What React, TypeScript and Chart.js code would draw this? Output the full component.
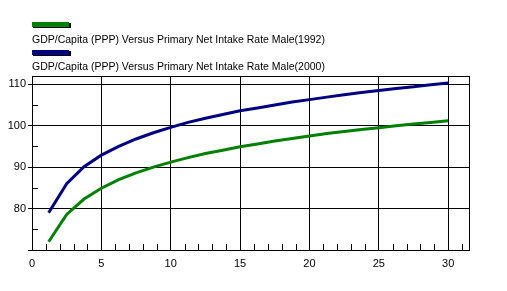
import React, { useEffect, useRef } from "react";
import { Chart, registerables } from "chart.js";

Chart.register(...registerables);

const xValues = [1.2, 2.5, 3.75, 5, 6.25, 7.5, 8.75, 10, 11.25, 12.5, 13.75, 15, 16.25, 17.5, 18.75, 20, 21.25, 22.5, 23.75, 25, 26.25, 27.5, 28.75, 30];
const series1992 = [72.0, 78.6, 82.3, 84.9, 87.0, 88.6, 90.0, 91.2, 92.3, 93.3, 94.1, 94.9, 95.6, 96.3, 96.9, 97.5, 98.1, 98.6, 99.1, 99.5, 100.0, 100.4, 100.8, 101.2];
const series2000 = [79.0, 86.0, 90.1, 92.9, 95.0, 96.8, 98.3, 99.6, 100.8, 101.8, 102.7, 103.6, 104.3, 105.0, 105.7, 106.3, 106.9, 107.5, 108.0, 108.5, 109.0, 109.4, 109.9, 110.3];
const seriesLabels = [
  "GDP/Capita (PPP) Versus Primary Net Intake Rate Male(1992)",
  "GDP/Capita (PPP) Versus Primary Net Intake Rate Male(2000)",
];
const seriesColors = ["#008000", "#000080"];
const xMinorTicks = Array.from({ length: 31 }, (_, i) => i + 1).filter((v) => v % 5 !== 0);
const yMinorTicks = [75, 85, 95, 105];

const FONT = "Liberation Sans, Arial, sans-serif";

export default function App() {
  const ref = useRef<HTMLCanvasElement | null>(null);

  useEffect(() => {
    if (!ref.current) return;
    const decor = {
      id: "decor",
      afterDraw(chart: any) {
        const { ctx, chartArea } = chart;
        const xs = chart.scales.x;
        const ys = chart.scales.y;
        ctx.save();
        ctx.strokeStyle = "#000";
        ctx.lineWidth = 1;
        ctx.strokeRect(
          Math.round(chartArea.left) + 0.5,
          Math.round(chartArea.top) + 0.5,
          Math.round(chartArea.right - chartArea.left),
          Math.round(chartArea.bottom - chartArea.top)
        );
        ctx.beginPath();
        for (const v of xMinorTicks) {
          const px = Math.round(xs.getPixelForValue(v)) + 0.5;
          ctx.moveTo(px, chartArea.bottom);
          ctx.lineTo(px, chartArea.bottom - 6);
        }
        for (const v of yMinorTicks) {
          const py = Math.round(ys.getPixelForValue(v)) + 0.5;
          ctx.moveTo(chartArea.left, py);
          ctx.lineTo(chartArea.left + 6, py);
        }
        ctx.stroke();
        ctx.font = "10.5px " + FONT;
        ctx.textBaseline = "middle";
        ctx.textAlign = "left";
        const rows = [
          { sy: 22, ty: 40 },
          { sy: 50, ty: 67 },
        ];
        rows.forEach((r, i) => {
          ctx.fillStyle = "#000";
          ctx.fillRect(33, r.sy + 1, 38, 5);
          ctx.fillStyle = seriesColors[i];
          ctx.fillRect(32, r.sy, 37, 5);
          ctx.fillStyle = "#000";
          ctx.fillText(seriesLabels[i], 32, r.ty);
        });
        ctx.restore();
      },
    };

    const chart = new Chart(ref.current, {
      type: "line",
      data: {
        datasets: [
          {
            label: seriesLabels[0],
            data: xValues.map((x, i) => ({ x, y: series1992[i] })),
            borderColor: seriesColors[0],
            backgroundColor: seriesColors[0],
            borderWidth: 3,
            pointRadius: 0,
            tension: 0,
          },
          {
            label: seriesLabels[1],
            data: xValues.map((x, i) => ({ x, y: series2000[i] })),
            borderColor: seriesColors[1],
            backgroundColor: seriesColors[1],
            borderWidth: 3,
            pointRadius: 0,
            tension: 0,
          },
        ],
      },
      options: {
        responsive: false,
        animation: false,
        devicePixelRatio: 1,
        layout: { padding: { top: 76, right: 38, left: 0, bottom: 0 } },
        plugins: { legend: { display: false }, tooltip: { enabled: false } },
        scales: {
          x: {
            type: "linear",
            min: 0,
            max: 31.5,
            border: { display: false },
            grid: { color: "#000", drawTicks: false, lineWidth: 1 },
            ticks: {
              stepSize: 5,
              includeBounds: false,
              padding: 7,
              color: "#000",
              font: { family: FONT, size: 11 },
              maxRotation: 0,
              autoSkip: false,
            },
            afterFit: (s: any) => {
              s.height = 41;
            },
          },
          y: {
            type: "linear",
            min: 70,
            max: 112,
            border: { display: false },
            grid: { color: "#000", drawTicks: true, tickLength: 4, lineWidth: 1 },
            ticks: {
              stepSize: 10,
              includeBounds: false,
              padding: 2,
              color: "#000",
              font: { family: FONT, size: 11 },
              callback: (v: any) => (v === 70 ? "" : String(v)),
            },
            afterFit: (s: any) => {
              s.width = 32;
            },
          },
        },
      },
      plugins: [decor],
    } as any);
    return () => chart.destroy();
  }, []);

  return (
    <div style={{ position: "fixed", left: 0, top: 0, width: 507, height: 291, background: "#fff" }}>
      <canvas ref={ref} width={507} height={291} style={{ display: "block" }} />
    </div>
  );
}
